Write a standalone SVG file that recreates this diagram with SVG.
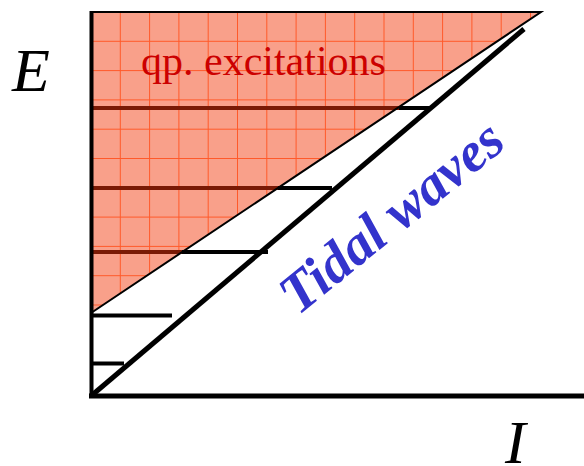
<svg xmlns="http://www.w3.org/2000/svg" width="584" height="466" viewBox="0 0 584 466">
  <style>
    .grid { stroke: #FF5A2A; stroke-width: 1; fill: none; }
    .lvl { stroke: #000; stroke-width: 4; fill: none; }
    .lvlin { stroke: #7A1A05; stroke-width: 4; fill: none; }
    .axis { stroke: #000; fill: none; }
    .lbl { font-family: "Liberation Serif", "Times New Roman", serif; }
  </style>
  <defs>
    <clipPath id="tri">
      <polygon points="91,12 541,12 91,313"/>
    </clipPath>
  </defs>
  <rect width="584" height="466" fill="#fff"/>
  <g id="qp-region">
    <polygon points="91,12 541,12 91,313" fill="#F9A08A"/>
    <g clip-path="url(#tri)" class="grid">
      <path d="M120.3,12V313M149.6,12V313M178.9,12V313M208.2,12V313M237.5,12V313M266.8,12V313M296.1,12V313M325.4,12V313M354.7,12V313M384,12V313M413.3,12V313M442.6,12V313M471.9,12V313M501.2,12V313M530.5,12V313"/>
      <path d="M91,41.3H541M91,70.6H541M91,99.9H541M91,129.2H541M91,158.5H541M91,187.8H541M91,217.1H541M91,246.4H541M91,275.7H541M91,305H541"/>
    </g>
  </g>
  <g id="levels">
    <path class="lvlin" d="M91,108H399M91,188H278M91,252H182"/>
    <path class="lvl" d="M399,108H430M278,188H332M182,252H268M91,315.5H172M91,363.5H124"/>
  </g>
  <g id="outline">
    <path d="M91,12H541L91,313" stroke="#000" stroke-width="2" fill="none"/>
  </g>
  <g id="axes">
    <path class="axis" stroke-width="4" d="M91.5,11V398"/>
    <path class="axis" stroke-width="5" d="M89,396H584"/>
    <path class="axis" stroke-width="5" d="M91,396L524,29"/>
  </g>
  <g id="labels">
    <text class="lbl" x="141" y="75" font-size="42" fill="#CC0000">qp. excitations</text>
    <text class="lbl" x="12" y="91" font-size="62" font-style="italic">E</text>
    <text class="lbl" x="505" y="463" font-size="62" font-style="italic">I</text>
    <text class="lbl" transform="translate(298,316) rotate(-39)" font-size="56" font-style="italic" font-weight="bold" fill="#3333CC">Tidal waves</text>
  </g>
</svg>
